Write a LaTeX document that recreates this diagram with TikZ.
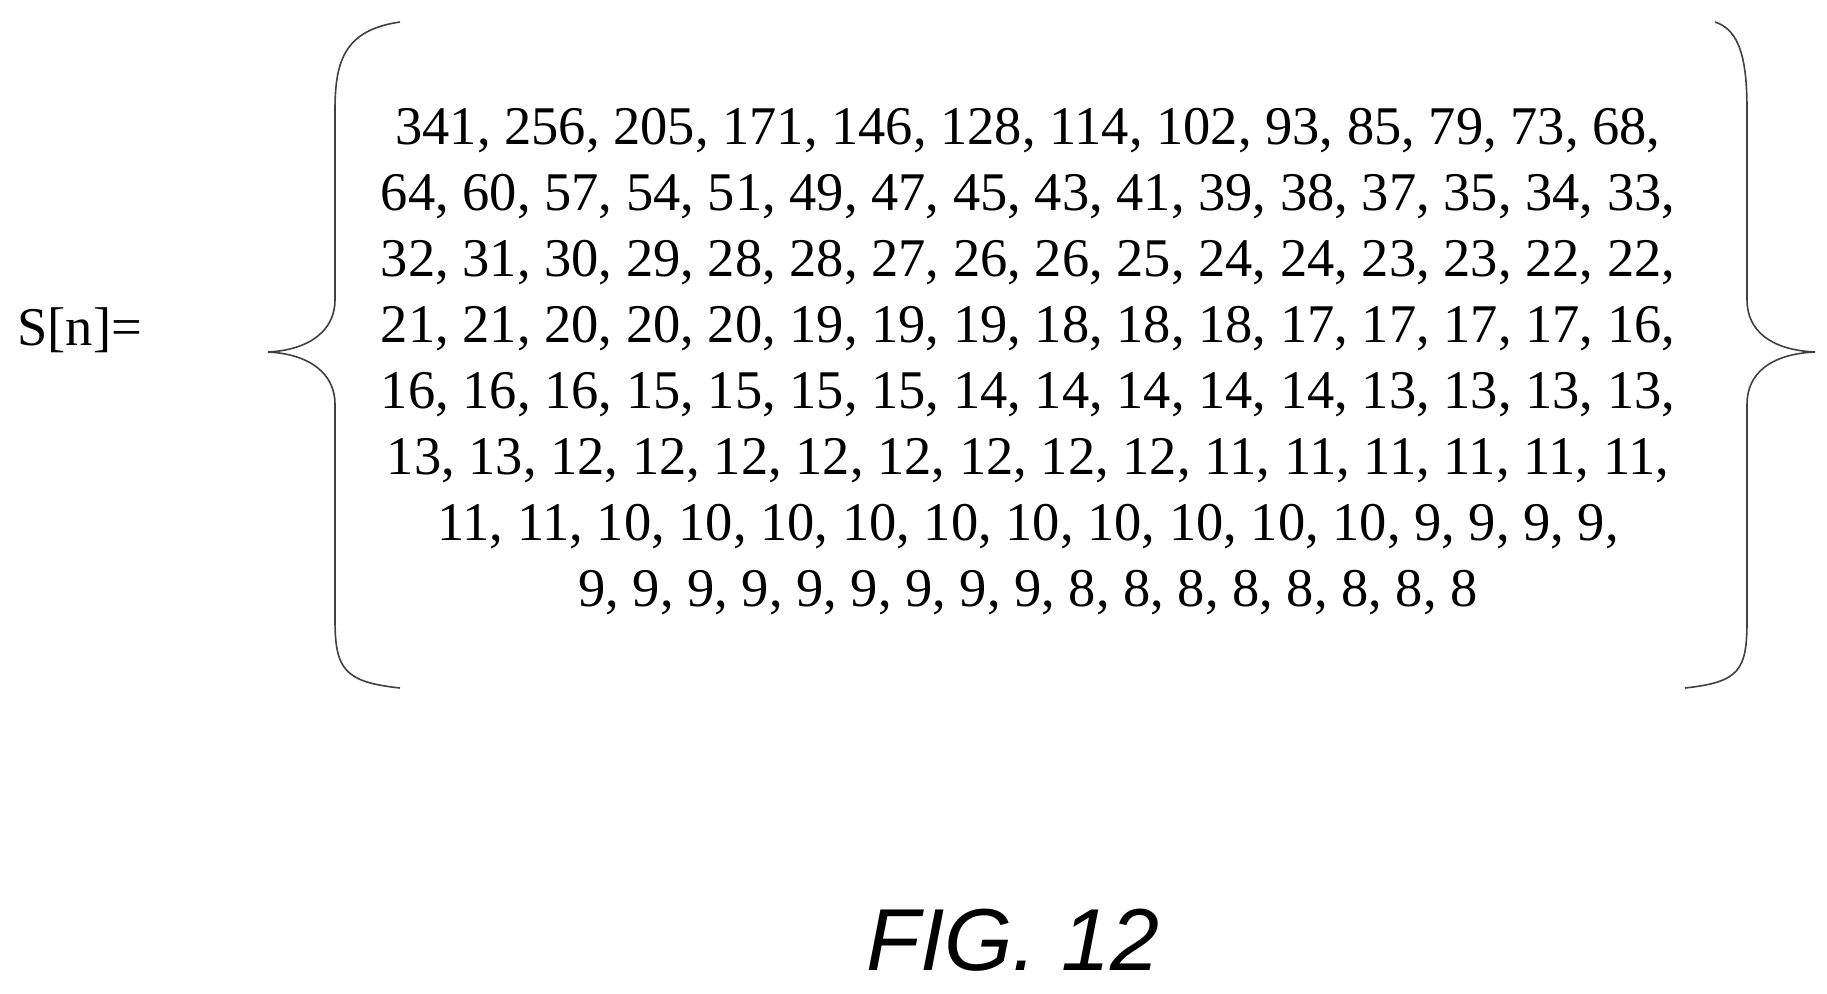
\documentclass[tikz,border=0pt]{standalone}
\usepackage{fontspec}
\setmainfont{Liberation Serif}
\newfontfamily\figfont{Liberation Sans}
\begin{document}
\begin{tikzpicture}[x=1pt,y=1pt,
  brace/.style={line width=1.6pt,draw=black!75},
  txt/.style={font=\fontsize{54.5}{66}\selectfont}]
\useasboundingbox (0,0) rectangle (1827,-993);
\node[txt,anchor=west] (s) at (14,-330) {S[n]=};
\node[txt,align=center] (seq) at (1028,-362) {341, 256, 205, 171, 146, 128, 114, 102, 93, 85, 79, 73, 68,\\
64, 60, 57, 54, 51, 49, 47, 45, 43, 41, 39, 38, 37, 35, 34, 33,\\
32, 31, 30, 29, 28, 28, 27, 26, 26, 25, 24, 24, 23, 23, 22, 22,\\
21, 21, 20, 20, 20, 19, 19, 19, 18, 18, 18, 17, 17, 17, 17, 16,\\
16, 16, 16, 15, 15, 15, 15, 14, 14, 14, 14, 14, 13, 13, 13, 13,\\
13, 13, 12, 12, 12, 12, 12, 12, 12, 12, 11, 11, 11, 11, 11, 11,\\
11, 11, 10, 10, 10, 10, 10, 10, 10, 10, 10, 10, 9, 9, 9, 9,\\
9, 9, 9, 9, 9, 9, 9, 9, 9, 8, 8, 8, 8, 8, 8, 8, 8};
\draw[brace] (400,-22) .. controls (345,-30) and (335,-60) .. (335,-110)
  -- (335,-300) .. controls (335,-330) and (310,-350) .. (268,-352)
  .. controls (310,-354) and (335,-374) .. (335,-404)
  -- (335,-620) .. controls (335,-670) and (345,-682) .. (400,-688);
\draw[brace] (1715,-22) .. controls (1740,-30) and (1747,-60) .. (1747,-110)
  -- (1747,-300) .. controls (1747,-330) and (1770,-350) .. (1815,-352)
  .. controls (1770,-354) and (1747,-374) .. (1747,-404)
  -- (1747,-620) .. controls (1747,-670) and (1740,-682) .. (1685,-688);
\node[font=\figfont\itshape\fontsize{88}{96}\selectfont] (fig) at (1013,-940) {FIG. 12};
\end{tikzpicture}
\end{document}
